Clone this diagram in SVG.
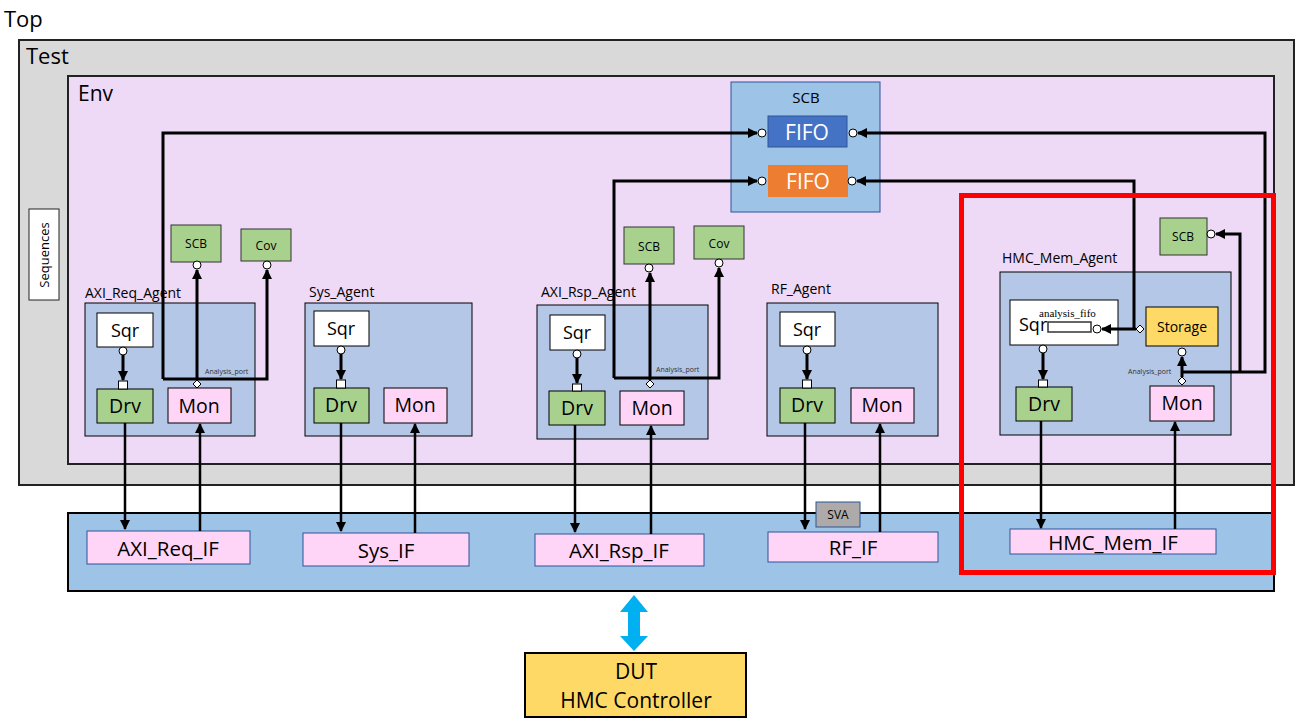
<svg xmlns="http://www.w3.org/2000/svg" width="1302" height="725" viewBox="0 0 1302 725">
<style>
text{font-family:"Open Sans","Liberation Sans",sans-serif;fill:#000}
.agent{fill:#b4c7e7;stroke:#000;stroke-width:1}
.sqr{fill:#fff;stroke:#000;stroke-width:1}
.drv{fill:#a9d18e;stroke:#000;stroke-width:1}
.mon{fill:#ffd5f7;stroke:#000;stroke-width:1}
.sm{fill:#a9d18e;stroke:#333;stroke-width:1}
.ifb{fill:#ffd5f7;stroke:#2f5597;stroke-width:1}
.c{fill:#fff;stroke:#000;stroke-width:1}
.w{stroke:#000;stroke-width:3;fill:none}
.wt{stroke:#000;stroke-width:2.5;fill:none}
.big{font-size:19.5px}
.lbl{font-size:14px}
.s11{font-size:12px}
.iff{font-size:20.5px}
.ap{font-size:7px;fill:#333}
</style>
<defs>
<marker id="ah" markerUnits="userSpaceOnUse" markerWidth="10" markerHeight="10" refX="9" refY="5" orient="auto"><path d="M0,0 L10,5 L0,10 z" fill="#000"/></marker>
</defs>
<text x="4" y="27" style="font-size:22px">Top</text>
<g id="test">
<rect x="19" y="40" width="1275" height="445" fill="#d9d9d9" stroke="#222" stroke-width="2"/>
<text x="26" y="64" style="font-size:22px">Test</text>
</g>
<g id="sequences">
<rect x="29" y="209" width="30" height="91" fill="#fff" stroke="#222" stroke-width="1"/>
<text transform="translate(49,255) rotate(-90)" text-anchor="middle" style="font-size:13px">Sequences</text>
</g>
<g id="env">
<rect x="68" y="76" width="1206" height="388" fill="#eed9f6" stroke="#222" stroke-width="2"/>
<text x="78" y="101" style="font-size:21px">Env</text>
</g>
<g id="scb">
<rect x="731" y="82" width="149" height="130" fill="#9dc3e6" stroke="#2f5597" stroke-width="1"/>
<text x="806" y="103" text-anchor="middle" style="font-size:15px">SCB</text>
<rect x="768" y="116" width="79" height="31" fill="#4472c4" stroke="#2f5597" stroke-width="1"/>
<text x="807" y="140" text-anchor="middle" style="font-size:21px;fill:#fff">FIFO</text>
<rect x="768" y="165" width="80" height="32" fill="#ed7d31"/>
<text x="808" y="189" text-anchor="middle" style="font-size:21px;fill:#fff">FIFO</text>
<circle class="c" cx="762" cy="133" r="4"/><circle class="c" cx="853" cy="133" r="4"/>
<circle class="c" cx="762" cy="181" r="4"/><circle class="c" cx="852" cy="181" r="4"/>
</g>
<g id="axi_req_agent">
<text x="85" y="298" class="lbl">AXI_Req_Agent</text>
<rect class="agent" x="85" y="303" width="170" height="133"/>
<rect class="sqr" x="97" y="313" width="56" height="34"/><text x="125" y="337" text-anchor="middle" style="font-size:18px">Sqr</text>
<rect class="drv" x="97" y="389" width="56" height="34"/><text x="125" y="413" text-anchor="middle" class="big">Drv</text>
<rect class="mon" x="168" y="388" width="63" height="35"/><text x="199" y="413" text-anchor="middle" class="big">Mon</text>
<circle class="c" cx="123" cy="351" r="4"/><rect x="118.5" y="381" width="9" height="8" fill="#fff" stroke="#000"/>
<text x="205" y="374" class="ap">Analysis_port</text>
<rect class="sm" x="171" y="225" width="50" height="37"/><text x="196" y="248" text-anchor="middle" class="s11">SCB</text>
<rect class="sm" x="241" y="229" width="50" height="32"/><text x="266" y="250" text-anchor="middle" class="s11">Cov</text>
<circle class="c" cx="197" cy="265" r="4"/><circle class="c" cx="267" cy="265" r="4"/>
</g>
<g id="sys_agent">
<text x="309" y="297" class="lbl">Sys_Agent</text>
<rect class="agent" x="305" y="303" width="167" height="133"/>
<rect class="sqr" x="314" y="311" width="55" height="35"/><text x="341" y="335" text-anchor="middle" style="font-size:18px">Sqr</text>
<rect class="drv" x="314" y="388" width="55" height="35"/><text x="341" y="412" text-anchor="middle" class="big">Drv</text>
<rect class="mon" x="384" y="388" width="63" height="35"/><text x="415" y="412" text-anchor="middle" class="big">Mon</text>
<circle class="c" cx="341" cy="350" r="4"/><rect x="336.5" y="380" width="9" height="8" fill="#fff" stroke="#000"/>
</g>
<g id="axi_rsp_agent">
<text x="541" y="297" class="lbl">AXI_Rsp_Agent</text>
<rect class="agent" x="537" y="305" width="171" height="134"/>
<rect class="sqr" x="550" y="315" width="55" height="35"/><text x="577" y="339" text-anchor="middle" style="font-size:18px">Sqr</text>
<rect class="drv" x="549" y="391" width="56" height="34"/><text x="577" y="415" text-anchor="middle" class="big">Drv</text>
<rect class="mon" x="620" y="391" width="64" height="34"/><text x="652" y="415" text-anchor="middle" class="big">Mon</text>
<circle class="c" cx="577" cy="354" r="4"/><rect x="572.5" y="384" width="9" height="7" fill="#fff" stroke="#000"/>
<text x="656" y="372" class="ap">Analysis_port</text>
<rect class="sm" x="624" y="227" width="50" height="37"/><text x="649" y="251" text-anchor="middle" class="s11">SCB</text>
<rect class="sm" x="694" y="226" width="50" height="33"/><text x="719" y="248" text-anchor="middle" class="s11">Cov</text>
<circle class="c" cx="649" cy="268" r="4"/><circle class="c" cx="719" cy="263" r="4"/>
</g>
<g id="rf_agent">
<text x="771" y="294" class="lbl">RF_Agent</text>
<rect class="agent" x="767" y="303" width="171" height="133"/>
<rect class="sqr" x="780" y="312" width="55" height="34"/><text x="807" y="336" text-anchor="middle" style="font-size:18px">Sqr</text>
<rect class="drv" x="780" y="388" width="55" height="35"/><text x="807" y="412" text-anchor="middle" class="big">Drv</text>
<rect class="mon" x="851" y="388" width="63" height="35"/><text x="882" y="412" text-anchor="middle" class="big">Mon</text>
<circle class="c" cx="807" cy="350" r="4"/><rect x="802.5" y="380" width="9" height="8" fill="#fff" stroke="#000"/>
</g>
<g id="hmc_mem_agent">
<text x="1002" y="263" class="lbl">HMC_Mem_Agent</text>
<rect class="agent" x="1000" y="272" width="231" height="163"/>
<rect class="sqr" x="1010" y="300" width="108" height="45"/>
<text x="1019" y="331" style="font-size:18px">Sqr</text>
<text x="1039" y="317" style="font-family:'Liberation Serif',serif;font-size:11px">analysis_fifo</text>
<rect x="1048" y="322" width="43" height="10" fill="#fff" stroke="#333" stroke-width="1.5"/>
<circle class="c" cx="1097" cy="329" r="4"/>
<rect x="1146" y="307" width="72" height="39" fill="#ffd966" stroke="#000" stroke-width="1"/>
<text x="1182" y="332" text-anchor="middle" class="lbl">Storage</text>
<rect class="drv" x="1016" y="387" width="56" height="34"/><text x="1044" y="411" text-anchor="middle" class="big">Drv</text>
<rect class="mon" x="1150" y="386" width="64" height="35"/><text x="1182" y="410" text-anchor="middle" class="big">Mon</text>
<circle class="c" cx="1043" cy="349" r="4"/><rect x="1038.5" y="380" width="9" height="7" fill="#fff" stroke="#000"/>
<circle class="c" cx="1182" cy="352" r="4"/>
<text x="1128" y="374" class="ap">Analysis_port</text>
<rect class="sm" x="1160" y="218" width="47" height="37"/><text x="1183" y="241" text-anchor="middle" class="s11">SCB</text>
<circle class="c" cx="1211" cy="234" r="4"/>
</g>
<g id="if_bar">
<rect x="68" y="513" width="1206" height="78" fill="#9dc3e6" stroke="#000" stroke-width="2"/>
<rect class="ifb" x="87" y="531" width="163" height="33"/><text x="168" y="556" text-anchor="middle" class="iff">AXI_Req_IF</text>
<rect class="ifb" x="303" y="533" width="166" height="33"/><text x="386" y="558" text-anchor="middle" class="iff">Sys_IF</text>
<rect class="ifb" x="535" y="534" width="169" height="32"/><text x="619" y="558" text-anchor="middle" class="iff">AXI_Rsp_IF</text>
<rect class="ifb" x="768" y="532" width="170" height="30"/><text x="853" y="555" text-anchor="middle" class="iff">RF_IF</text>
<rect class="ifb" x="1010" y="529" width="206" height="25"/><text x="1113" y="550" text-anchor="middle" class="iff">HMC_Mem_IF</text>
<rect x="816" y="502" width="44" height="25" fill="#aeaaaa" stroke="#2f5597" stroke-width="1"/><text x="838" y="519" text-anchor="middle" class="s11">SVA</text>
</g>
<g id="dut">
<rect x="525" y="653" width="221" height="64" fill="#ffd966" stroke="#000" stroke-width="2"/>
<text x="636" y="679" text-anchor="middle" style="font-size:21px">DUT</text>
<text x="636" y="708" text-anchor="middle" style="font-size:21px">HMC Controller</text>
</g>
<g id="connectors">
<path d="M634,595 L648,612 L640,612 L640,636 L648,636 L634,651 L620,636 L628,636 L628,612 L620,612 z" fill="#00b0f0"/>
<path class="w" d="M197,380 L197,270" marker-end="url(#ah)"/>
<path class="w" d="M163,379 L267,379 L267,270" marker-end="url(#ah)"/>
<path class="w" d="M163,379 L163,133 L757,133" marker-end="url(#ah)"/>
<path d="M197,380 L201,384 L197,388 L193,384 z" fill="#fff" stroke="#000"/>
<path class="w" d="M650,380 L650,273" marker-end="url(#ah)"/>
<path class="w" d="M614,378 L719,378 L719,268" marker-end="url(#ah)"/>
<path class="w" d="M614,378 L614,181 L757,181" marker-end="url(#ah)"/>
<path d="M650,380 L654,384 L650,388 L646,384 z" fill="#fff" stroke="#000"/>
<path class="w" d="M1136,329 L1102,329" marker-end="url(#ah)"/>
<path class="w" d="M1134,329 L1134,181 L857,181" marker-end="url(#ah)"/>
<path class="w" d="M1182,377 L1182,357" marker-end="url(#ah)"/>
<path class="w" d="M1182,372 L1265,372 L1265,133 L858,133" marker-end="url(#ah)"/>
<path class="w" d="M1240,372 L1240,234 L1216,234" marker-end="url(#ah)"/>
<path d="M1140,325 L1144,329 L1140,333 L1136,329 z" fill="#fff" stroke="#000"/>
<path d="M1182,377 L1186,381 L1182,385 L1178,381 z" fill="#fff" stroke="#000"/>
<path class="w" d="M123,355 L123,380" marker-end="url(#ah)"/>
<path class="w" d="M341,354 L341,379" marker-end="url(#ah)"/>
<path class="w" d="M577,358 L577,383" marker-end="url(#ah)"/>
<path class="w" d="M807,354 L807,379" marker-end="url(#ah)"/>
<path class="w" d="M1043,353 L1043,379" marker-end="url(#ah)"/>
<path class="wt" d="M125,423 L125,529" marker-end="url(#ah)"/>
<path class="wt" d="M200,531 L200,424" marker-end="url(#ah)"/>
<path class="wt" d="M341,423 L341,531" marker-end="url(#ah)"/>
<path class="wt" d="M415,533 L415,424" marker-end="url(#ah)"/>
<path class="wt" d="M575,425 L575,532" marker-end="url(#ah)"/>
<path class="wt" d="M651,534 L651,426" marker-end="url(#ah)"/>
<path class="wt" d="M805,423 L805,529" marker-end="url(#ah)"/>
<path class="wt" d="M880,532 L880,424" marker-end="url(#ah)"/>
<path class="wt" d="M1041,421 L1041,528" marker-end="url(#ah)"/>
<path class="wt" d="M1175,529 L1175,422" marker-end="url(#ah)"/>
</g>
<g id="highlight">
<rect x="961.5" y="195.5" width="312" height="377" fill="none" stroke="#ff0000" stroke-width="5"/>
</g>
</svg>
